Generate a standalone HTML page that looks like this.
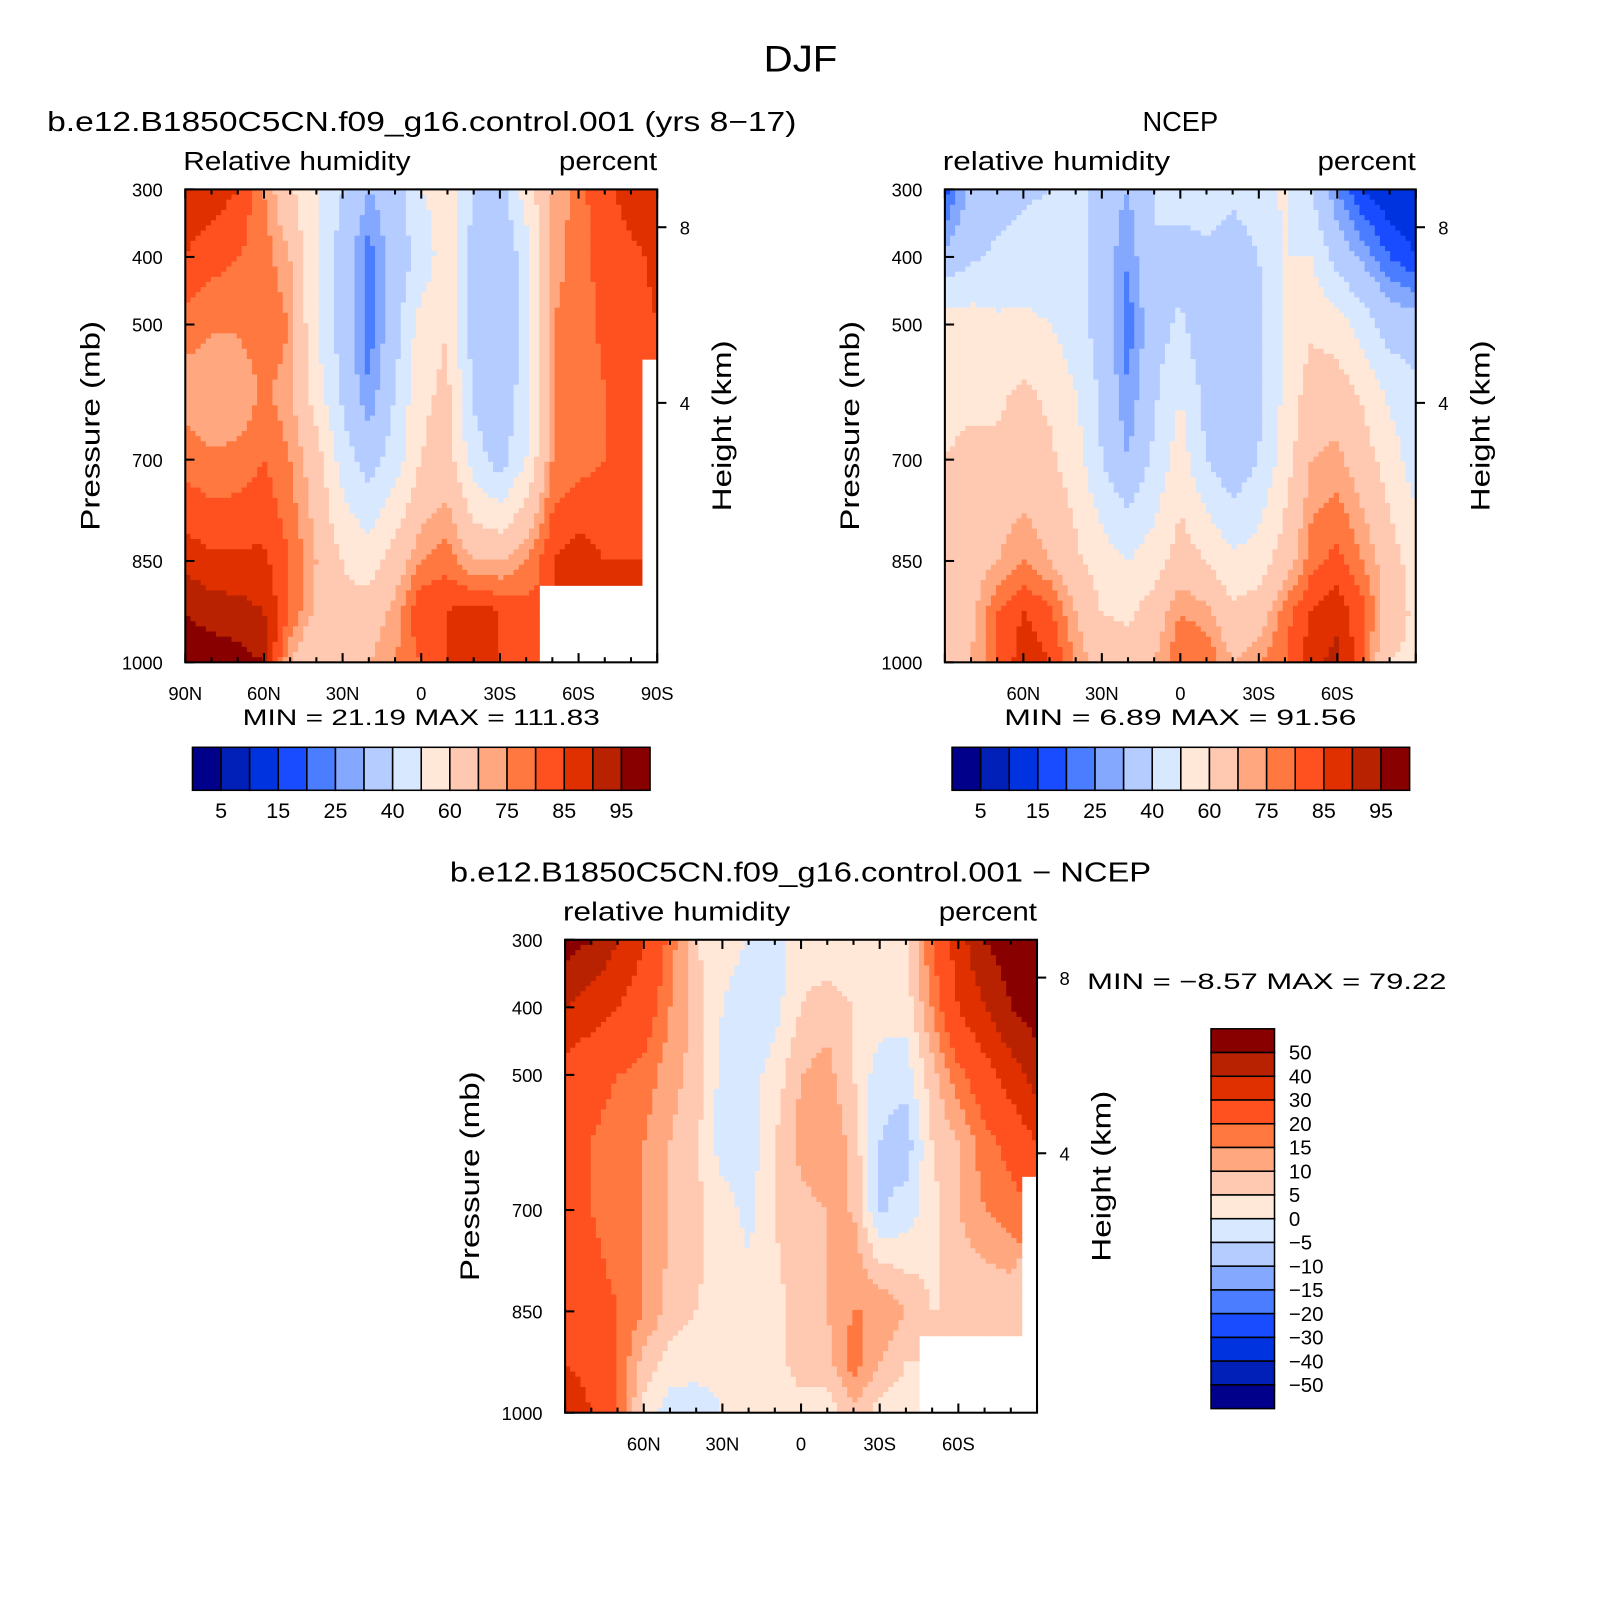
<!DOCTYPE html>
<html><head><meta charset="utf-8"><style>
html,body{margin:0;padding:0;background:#fff}
svg text{font-family:"Liberation Sans",sans-serif;fill:#000}
</style></head><body>
<svg id="svg" width="1597" height="1600" viewBox="0 0 1597 1600" xmlns="http://www.w3.org/2000/svg">
<g id="root" transform="scale(1.0237)">
<text x="782" y="70" font-size="36" text-anchor="middle" textLength="72" lengthAdjust="spacingAndGlyphs">DJF</text>
</g>
</svg>
<script>
// ---- data ----
const lats = [90,80,70,60,50,40,30,20,10,0,-10,-20,-30,-40,-50,-60,-70,-80,-90];
const plevs = [300,400,500,600,700,850,925,1000];
const N = null;
// model RH (percent), rows = latitude (90N..90S), cols = pressure levels
const modelRH = [
[88,85,78,72,78,88,95,98],
[88,82,76,70,76,86,93,98],
[85,80,76,70,77,86,92,97],
[75,78,80,76,80,86,90,95],
[62,70,75,72,75,80,80,70],
[50,50,50,55,65,70,68,60],
[40,35,35,38,45,60,62,65],
[30,22,22,25,35,55,65,70],
[35,35,35,40,45,65,72,75],
[50,42,55,58,60,75,85,80],
[55,58,60,62,65,78,85,85],
[40,35,35,38,45,70,88,85],
[35,30,30,32,35,70,85,85],
[55,45,45,45,50,75,82,80],
[70,72,75,75,75,85,N,N],
[78,78,78,77,78,88,N,N],
[84,82,81,80,80,85,N,N],
[87,84,83,82,82,85,N,N],
[88,86,85,N,N,N,N,N]
];
const ncepRH = [
[18,32,55,58,60,60,60,60],
[32,38,55,58,62,65,68,70],
[35,42,52,58,62,70,80,80],
[38,45,52,62,65,75,85,88],
[40,45,50,58,62,70,82,85],
[45,45,45,50,55,62,70,75],
[35,35,35,38,40,55,60,65],
[30,25,22,25,30,50,58,65],
[40,40,35,38,42,55,65,70],
[45,35,42,50,55,65,75,80],
[45,38,32,36,40,60,72,80],
[42,35,30,30,32,52,62,70],
[45,40,38,38,40,55,65,75],
[52,50,50,52,55,65,78,80],
[40,50,58,65,70,78,85,88],
[25,35,55,65,72,82,88,92],
[15,28,45,58,65,75,82,80],
[10,20,35,48,55,65,65,60],
[10,15,35,42,45,55,58,58]
];
const diffRH = [
[55,40,25,22,20,22,30,40],
[50,35,22,20,20,22,25,30],
[40,30,20,18,18,20,20,20],
[30,25,18,15,15,15,8,3],
[18,15,12,10,10,8,3,-3],
[5,8,8,6,6,5,2,-3],
[2,0,-2,-3,3,4,2,0],
[0,-3,-2,-3,-2,3,3,2],
[-3,-2,2,5,5,4,3,1],
[3,5,10,12,8,6,8,2],
[0,8,12,15,10,10,8,2],
[0,5,5,8,10,15,18,8],
[0,3,-3,-5,-6,15,10,3],
[3,2,-3,-8,-3,10,5,2],
[20,15,8,5,3,5,N,N],
[35,30,18,10,10,5,N,N],
[50,40,25,18,15,5,N,N],
[55,50,35,22,18,5,N,N],
[55,55,45,30,N,N,N,N]
];
const rhLevels = [5,10,15,20,25,30,40,50,60,70,75,80,85,90,95];
const rhTickLabels = ["5","15","25","40","60","75","85","95"];
const diffLevels = [-50,-40,-30,-20,-15,-10,-5,0,5,10,15,20,30,40,50];
const diffTickLabels = ["50","40","30","20","15","10","5","0","−5","−10","−15","−20","−30","−40","−50"];
const colors = ["#00008b","#0020b8","#0033e0","#1a4cff","#4a7dff","#85a8ff","#b4ccff","#d8e8ff","#ffe8d8","#ffc8b0","#ffa880","#ff7840","#ff5020","#e03000","#b82200","#880000"];
const pTicks = [300,400,500,700,850,1000];
const hTicks = [{v:8,p:356},{v:4,p:616}];

// ---- helpers ----
const NS="http://www.w3.org/2000/svg";
const svg=document.getElementById('root');
function mk(tag,attrs,parent){const e=document.createElementNS(NS,tag);for(const k in attrs)e.setAttribute(k,attrs[k]);(parent||svg).appendChild(e);return e;}
function txt(x,y,s,size,anchor,parent,len){const a={x:x,y:y,'font-size':size,'text-anchor':anchor||'start'};if(len){a.textLength=len;a.lengthAdjust='spacingAndGlyphs';}const t=mk('text',a,parent);t.textContent=s;return t;}
function colorFor(v,levels){let i=0;while(i<levels.length&&v>=levels[i])i++;return colors[i];}
function sample(field,lat,p){
  let fi=(90-lat)/10; let i0=Math.min(Math.floor(fi),lats.length-2); let ti=fi-i0;
  let j0=0; while(j0<plevs.length-2&&p>plevs[j0+1])j0++;
  let tj=(p-plevs[j0])/(plevs[j0+1]-plevs[j0]);
  const ni=ti<0.5?i0:i0+1, nj=tj<0.5?j0:j0+1;
  if(field[ni][nj]===null)return null;
  const g=(a,b)=>{const v=field[a][b];return v===null?field[ni][nj]:v;};
  const a=g(i0,j0)*(1-tj)+g(i0,j0+1)*tj, b=g(i0+1,j0)*(1-tj)+g(i0+1,j0+1)*tj;
  return a*(1-ti)+b*ti;
}

function panel(opt){
  const {x0,y0,w,h,field,levels,name}=opt;
  const g=mk('g',{});
  
  
  const xs=lat=>x0+(90-lat)/180*w, ys=p=>y0+(p-300)/700*h;
  const n=92, cw=w/n, ch=h/n;
  for(let a=0;a<n;a++)for(let b=0;b<n;b++){
    const lat=90-(a+0.5)/n*180, p=300+(b+0.5)/n*700;
    const v=sample(field,lat,p); if(v===null)continue;
    const r=mk('rect',{x:(x0+a*cw).toFixed(2),y:(y0+b*ch).toFixed(2),width:(cw+0.6).toFixed(2),height:(ch+0.6).toFixed(2),fill:colorFor(v,levels)},g);
    
    
  }
  const fr=mk('rect',{x:x0,y:y0,width:w,height:h,fill:'none',stroke:'#000','stroke-width':2},g);
  
  
  pTicks.forEach(p=>{const y=ys(p);mk('line',{x1:x0,y1:y,x2:x0+9,y2:y,stroke:'#000','stroke-width':2},g);
    const t=txt(x0-22,y+7,String(p),18,'end',g);});
  for(let lat=90;lat>=-90;lat-=10){const x=xs(lat);const major=lat%30===0;const L=major?9:5;
    mk('line',{x1:x,y1:y0+h,x2:x,y2:y0+h-L,stroke:'#000','stroke-width':2},g);
    mk('line',{x1:x,y1:y0,x2:x,y2:y0+L,stroke:'#000','stroke-width':2},g);
    if(major&&(opt.poles||Math.abs(lat)!==90)){const s=lat===0?'0':Math.abs(lat)+(lat>0?'N':'S');
      const t=txt(x,y0+h+37,s,18,'middle',g);}}
  hTicks.forEach(o=>{const y=ys(o.p);mk('line',{x1:x0+w,y1:y,x2:x0+w+9,y2:y,stroke:'#000','stroke-width':2},g);
    const t=txt(x0+w+22,y+7,String(o.v),18,'start',g);});
  let t=mk('text',{x:0,y:0,'font-size':26,'text-anchor':'middle',textLength:205,lengthAdjust:'spacingAndGlyphs',transform:`translate(${x0-84},${y0+h/2}) rotate(-90)`},g);t.textContent='Pressure (mb)';
  
  t=mk('text',{x:0,y:0,'font-size':26,'text-anchor':'middle',textLength:167,lengthAdjust:'spacingAndGlyphs',transform:`translate(${x0+w+72},${y0+h/2}) rotate(-90)`},g);t.textContent='Height (km)';
  
  t=txt(x0-2,y0-19,opt.left,25,'start',g,222);
  t=txt(x0+w,y0-19,'percent',25,'end',g,96);
  t=txt(opt.tx,y0-57,opt.title,27,opt.ta,g,opt.tl);
}
function hbar(x0,y0,name){
  const g=mk('g',{});
  const bw=447/16;
  colors.forEach((c,i)=>{const r=mk('rect',{x:x0+i*bw,y:y0,width:bw,height:42,fill:c,stroke:'#000','stroke-width':1.5},g);
    });
  rhTickLabels.forEach((s,k)=>{const t=txt(x0+(2*k+1)*bw,y0+69,s,21,'middle',g);});
}

panel({x0:181,y0:185,w:461,h:462,field:modelRH,levels:rhLevels,name:'model',left:'Relative humidity',title:'b.e12.B1850C5CN.f09_g16.control.001 (yrs 8−17)',tx:46,ta:'start',tl:732,poles:true});
panel({x0:923,y0:185,w:460,h:462,field:ncepRH,levels:rhLevels,name:'ncep',left:'relative humidity',title:'NCEP',tx:1153,ta:'middle',tl:74,poles:false});
panel({x0:552,y0:918,w:461,h:462,field:diffRH,levels:diffLevels,name:'difference',left:'relative humidity',title:'b.e12.B1850C5CN.f09_g16.control.001 − NCEP',tx:782,ta:'middle',tl:685,poles:false});

let t=txt(237,708,'MIN =   21.19   MAX =  111.83',22,'start',null,349);
t=txt(981,708,'MIN =     6.89   MAX =   91.56',22,'start',null,344);
t=txt(1062,966,'MIN =    −8.57   MAX =   79.22',22,'start',null,351);
hbar(188,730,'model-colorbar');
hbar(930,730,'ncep-colorbar');
(function(){const g=mk('g',{});
  const bh=371/16;
  colors.slice().reverse().forEach((c,i)=>{const r=mk('rect',{x:1183,y:1005+i*bh,width:62,height:bh,fill:c,stroke:'#000','stroke-width':1.5},g);
    });
  diffTickLabels.forEach((s,k)=>{const t=txt(1259,1005+(k+1)*bh+7,s,20,'start',g);});
})();
</script>
</body></html>
